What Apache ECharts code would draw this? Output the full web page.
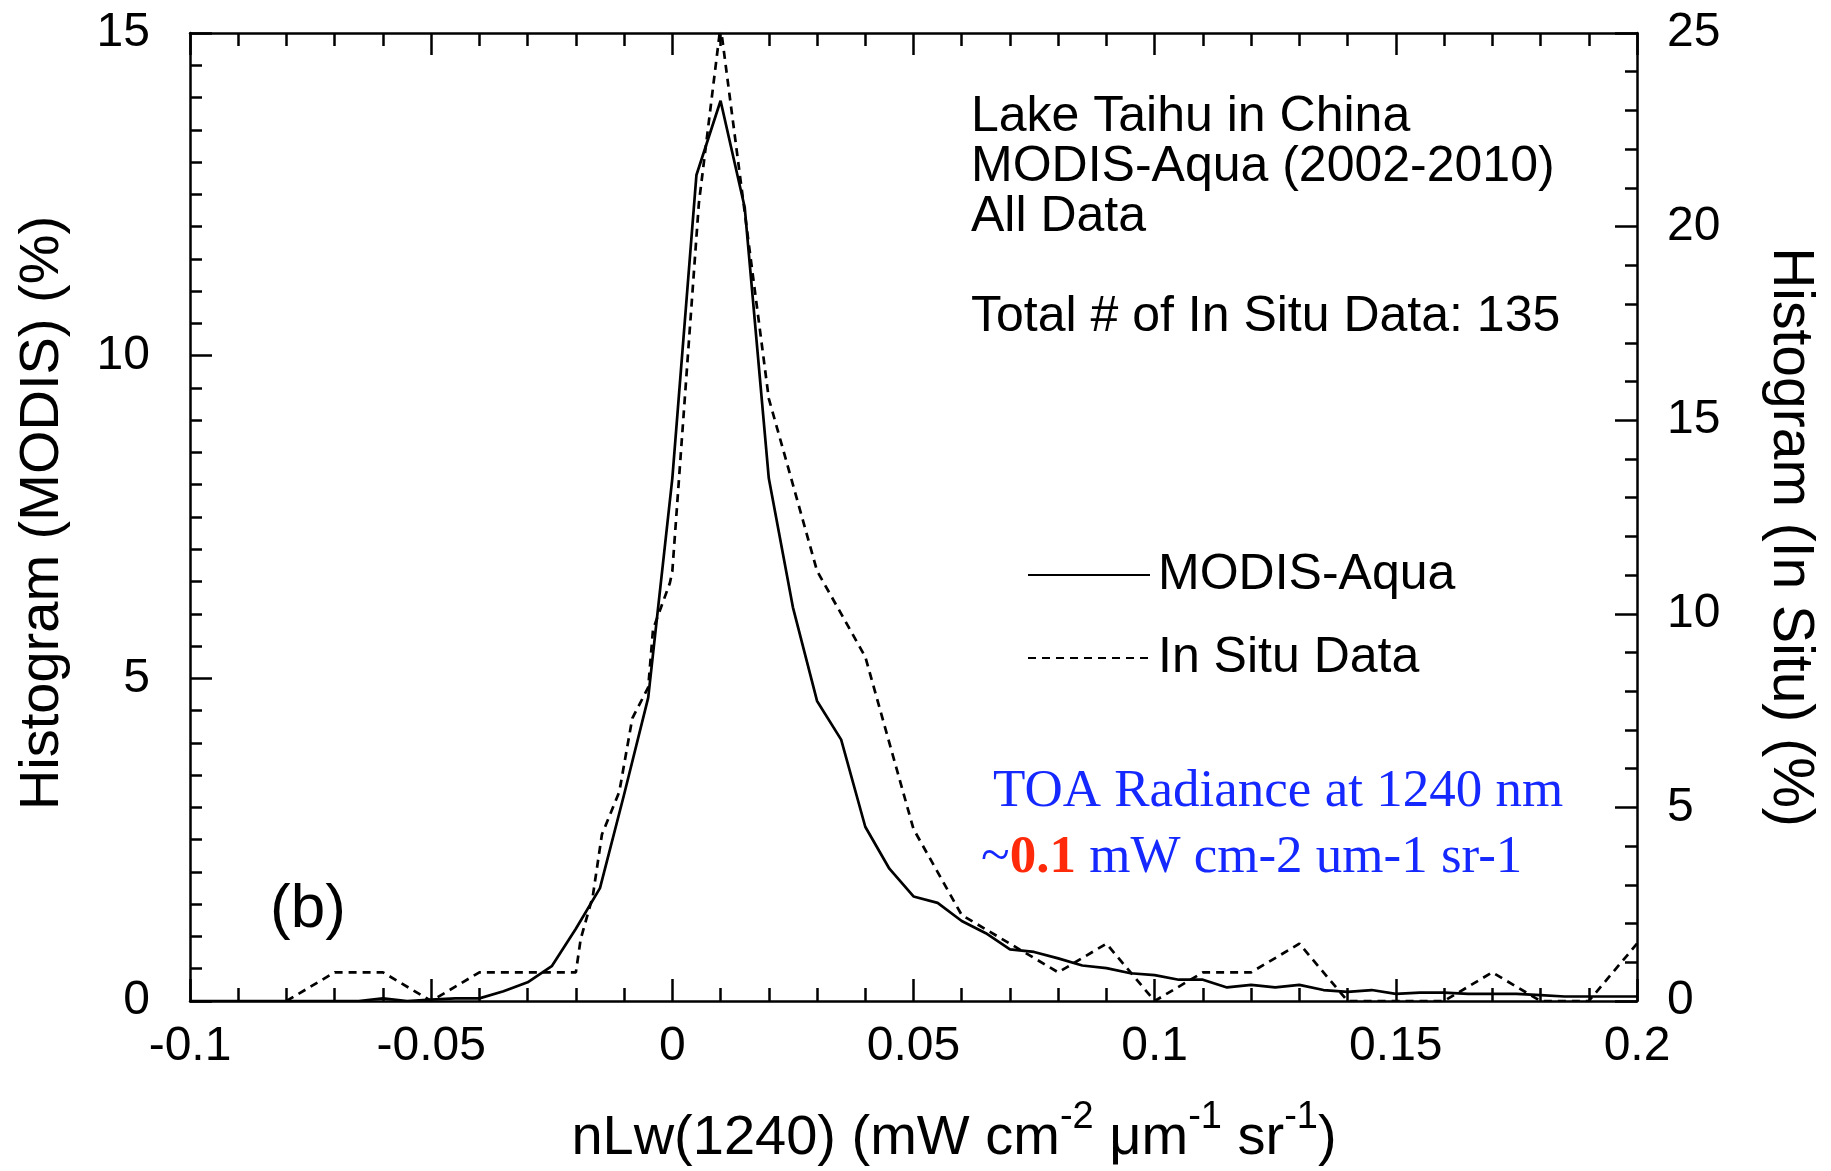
<!DOCTYPE html>
<html>
<head>
<meta charset="utf-8">
<title>nLw(1240) histogram – Lake Taihu</title>
<script src="https://cdn.jsdelivr.net/npm/echarts@6/dist/echarts.min.js"></script>
<style>
  html, body { margin: 0; padding: 0; background: #fff; }
  #chart { width: 1831px; height: 1171px; }
</style>
</head>
<body>
<div id="chart"></div>
<script>
// nLw(1240) bin positions (mW cm^-2 um^-1 sr^-1) for the MODIS-Aqua histogram
const modisX = [
  -0.1, -0.095, -0.09, -0.085, -0.08, -0.075, -0.07, -0.065, -0.06, -0.055,
  -0.05, -0.045, -0.04, -0.035, -0.03, -0.025, -0.02, -0.015, -0.01, -0.005,
  0, 0.005, 0.01, 0.015, 0.02, 0.025, 0.03, 0.035, 0.04, 0.045,
  0.05, 0.055, 0.06, 0.065, 0.07, 0.075, 0.08, 0.085, 0.09, 0.095,
  0.1, 0.105, 0.11, 0.115, 0.12, 0.125, 0.13, 0.135, 0.14, 0.145,
  0.15, 0.155, 0.16, 0.165, 0.17, 0.175, 0.18, 0.185, 0.19, 0.195, 0.2
];
// MODIS-Aqua histogram (%), left axis
const modisPct = [
  0, 0, 0, 0, 0, 0, 0, 0, 0.04, 0,
  0.02, 0.04, 0.04, 0.15, 0.29, 0.54, 1.12, 1.75, 3.2, 4.7,
  8.1, 12.8, 13.95, 12.3, 8.1, 6.1, 4.65, 4.05, 2.7, 2.05,
  1.62, 1.52, 1.24, 1.05, 0.8, 0.76, 0.66, 0.55, 0.51, 0.43,
  0.4, 0.33, 0.33, 0.21, 0.25, 0.21, 0.25, 0.17, 0.14, 0.17,
  0.11, 0.13, 0.13, 0.11, 0.11, 0.11, 0.09, 0.07, 0.07, 0.07, 0.07
];

// In situ histogram (%), right axis (135 matchups in total)
const insituX = [
  -0.08, -0.07, -0.06, -0.05, -0.04, -0.03, -0.02, -0.019, -0.0165, -0.0146,
  -0.011, -0.0083, -0.005, -0.004, -0.0005, 0, 0.0055, 0.01, 0.02, 0.03,
  0.04, 0.05, 0.06, 0.07, 0.08, 0.09, 0.1, 0.11, 0.12, 0.13,
  0.14, 0.15, 0.16, 0.17, 0.18, 0.19, 0.2
];
const insituPct = [
  0, 0.74, 0.74, 0, 0.74, 0.74, 0.74, 1.6, 2.7, 4.3,
  5.4, 7.3, 8.1, 9.6, 10.8, 11.1, 20.6, 25.19, 15.56, 11.11,
  8.89, 4.44, 2.22, 1.48, 0.74, 1.48, 0, 0.74, 0.74, 1.48,
  0, 0, 0, 0.74, 0, 0, 1.48
];

// Axis ranges and tick steps
const xRange = [-0.1, 0.2], xStep = 0.05;
const modisRange = [0, 15], modisStep = 5;
const insituRange = [0, 25], insituStep = 5;

const SANS = '"Liberation Sans", Arial, Helvetica, sans-serif';
const SERIF = '"Liberation Serif", "Times New Roman", Times, serif';
const BLUE = '#1428ff';
const RED = '#ff2a0a';

const pair = (xs, ys) => xs.map((x, i) => [x, ys[i]]);

const tickLine = { color: '#000', width: 2.5 };

function xAxisDef(pos, showLabels) {
  return {
    type: 'value', position: pos,
    min: xRange[0], max: xRange[1], interval: xStep,
    axisLine: { show: true, onZero: false, lineStyle: tickLine },
    axisTick: { show: true, inside: true, length: 22, lineStyle: tickLine },
    minorTick: { show: true, splitNumber: 5, length: 13, lineStyle: tickLine },
    axisLabel: {
      show: showLabels, margin: 22, color: '#000', fontSize: 48, fontFamily: SANS,
      showMinLabel: true, showMaxLabel: true,
      formatter: v => String(parseFloat(v.toFixed(3)))
    },
    splitLine: { show: false }, minorSplitLine: { show: false }
  };
}

function yAxisDef(pos, range, step, minorSplit, margin) {
  return {
    type: 'value', position: pos,
    min: range[0], max: range[1], interval: step,
    axisLine: { show: true, onZero: false, lineStyle: tickLine },
    axisTick: { show: true, inside: true, length: 22, lineStyle: tickLine },
    minorTick: { show: true, splitNumber: minorSplit, length: 12, lineStyle: tickLine },
    axisLabel: {
      margin: margin, color: '#000', fontSize: 48, fontFamily: SANS,
      showMinLabel: true, showMaxLabel: true
    },
    splitLine: { show: false }, minorSplitLine: { show: false }
  };
}

const chart = echarts.init(document.getElementById('chart'), null, { renderer: 'canvas' });

chart.setOption({
  animation: false,
  backgroundColor: '#ffffff',
  grid: { left: 190, right: 194, top: 33, bottom: 170, containLabel: false },
  xAxis: [xAxisDef('bottom', true), xAxisDef('top', false)],
  yAxis: [
    yAxisDef('left', modisRange, modisStep, 10, 40),
    yAxisDef('right', insituRange, insituStep, 5, 30)
  ],
  legend: {
    orient: 'vertical', left: 1022, top: 545,
    itemWidth: 122, itemHeight: 14, itemGap: 33,
    selectedMode: false,
    itemStyle: { opacity: 0 },
    textStyle: { color: '#000', fontSize: 50, fontFamily: SANS, padding: [0, 0, 0, 3] },
    data: ['MODIS-Aqua', 'In Situ Data']
  },
  series: [
    {
      name: 'MODIS-Aqua', type: 'line', xAxisIndex: 0, yAxisIndex: 0,
      symbol: 'none', symbolSize: 0, smooth: false, clip: true,
      lineStyle: { color: '#000', width: 2.7, type: 'solid' },
      itemStyle: { color: '#000' },
      data: pair(modisX, modisPct)
    },
    {
      name: 'In Situ Data', type: 'line', xAxisIndex: 0, yAxisIndex: 1,
      symbol: 'none', symbolSize: 0, smooth: false, clip: true,
      lineStyle: { color: '#000', width: 2.7, type: [8, 6] },
      itemStyle: { color: '#000' },
      data: pair(insituX, insituPct)
    }
  ],
  graphic: [
    {
      type: 'text', left: 971, top: 92, silent: true,
      style: {
        text: 'Lake Taihu in China\nMODIS-Aqua (2002-2010)\nAll Data\n\nTotal # of In Situ Data: 135',
        font: '50px ' + SANS, fill: '#000', lineHeight: 50
      }
    },
    {
      type: 'text', x: 270, y: 910, silent: true,
      style: { text: '(b)', font: '62px ' + SANS, fill: '#000', textVerticalAlign: 'middle' }
    },
    {
      type: 'text', x: 993, y: 792, silent: true,
      style: { text: 'TOA Radiance at 1240 nm', font: '53px ' + SERIF, fill: BLUE, textVerticalAlign: 'middle' }
    },
    {
      type: 'text', x: 981, y: 858, silent: true,
      style: {
        text: '{b|~}{r|0.1}{b| mW cm-2 um-1 sr-1}',
        textVerticalAlign: 'middle',
        rich: {
          b: { fontSize: 53, fontFamily: SERIF, fill: BLUE, color: BLUE },
          r: { fontSize: 53, fontFamily: SERIF, fontWeight: 'bold', fill: RED, color: RED }
        }
      }
    },
    {
      type: 'text', x: 43, y: 513, rotation: Math.PI / 2, silent: true,
      style: {
        text: 'Histogram (MODIS) (%)', font: '56px ' + SANS, fill: '#000',
        textAlign: 'center', textVerticalAlign: 'middle'
      }
    },
    {
      type: 'text', x: 1790, y: 537, rotation: -Math.PI / 2, silent: true,
      style: {
        text: 'Histogram (In Situ) (%)', font: '57px ' + SANS, fill: '#000',
        textAlign: 'center', textVerticalAlign: 'middle'
      }
    },
    {
      type: 'text', x: 954, y: 1139, silent: true,
      style: {
        text: '{m|nLw(1240) (mW cm}{s|-2}{m| \u03bcm}{s|-1}{m| sr}{s|-1}{m|)}',
        textAlign: 'center', textVerticalAlign: 'middle',
        rich: {
          m: { fontSize: 56, fontFamily: SANS, fill: '#000', color: '#000', lineHeight: 80 },
          s: { fontSize: 38, fontFamily: SANS, fill: '#000', color: '#000', verticalAlign: 'top' }
        }
      }
    }
  ]
});
</script>
</body>
</html>
